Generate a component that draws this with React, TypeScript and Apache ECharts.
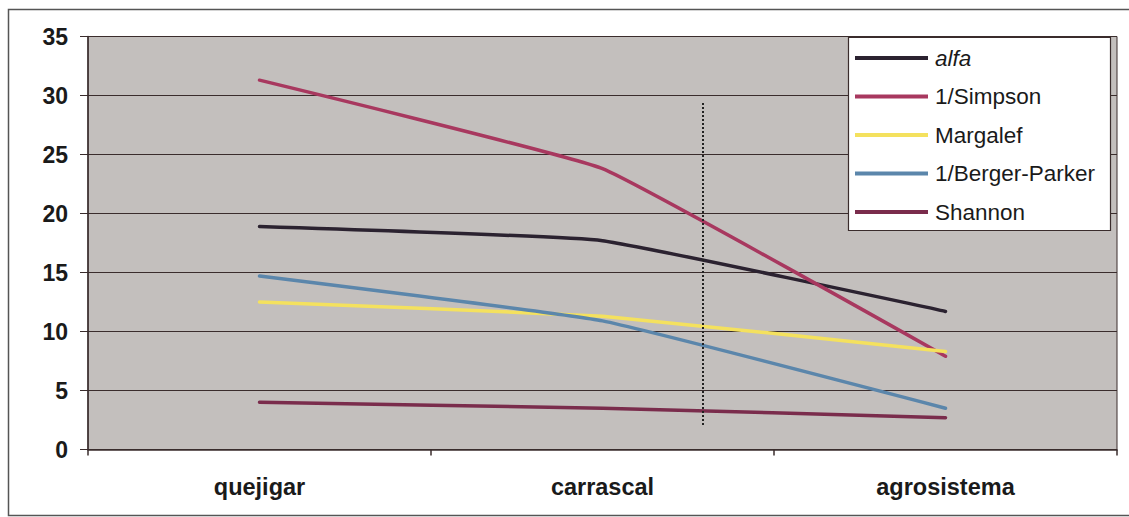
import React, { useEffect, useRef } from "react";
import * as echarts from "echarts";

const categories = ["quejigar", "carrascal", "agrosistema"];
const alfa = [18.9, 17.7, 11.7];
const simpson = [31.3, 23.8, 7.9];
const margalef = [12.5, 11.3, 8.3];
const bergerParker = [14.7, 10.9, 3.5];
const shannon = [4.0, 3.5, 2.7];
const yTicks = { min: 0, max: 35, interval: 5 };

const colors = {
  alfa: "#2b2230",
  simpson: "#a8385f",
  margalef: "#f4e15e",
  berger: "#5b86ab",
  shannon: "#7a2c4c",
};

const FONT = "Liberation Sans, Arial, sans-serif";

export default function App() {
  const ref = useRef<HTMLDivElement>(null);
  useEffect(() => {
    if (!ref.current) return;
    const chart = echarts.init(ref.current, null, { renderer: "svg" });
    const mk = (name: string, data: number[], color: string) => ({
      name,
      type: "line",
      data,
      symbol: "none",
      smooth: 0.1,
      lineStyle: { color, width: 3.5, cap: "round", join: "round" },
      itemStyle: { color },
      z: 3,
    });
    chart.setOption({
      animation: false,
      backgroundColor: "#ffffff",
      textStyle: { fontFamily: FONT },
      grid: { left: 88, right: 12, top: 36.5, bottom: 67.5, show: true, backgroundColor: "#c3bfbd", borderColor: "#3a2c2c", borderWidth: 1 },
      xAxis: {
        type: "category",
        data: categories,
        boundaryGap: true,
        axisLine: { lineStyle: { color: "#3a2c2c", width: 1.5 } },
        axisTick: { show: true, length: 6, lineStyle: { color: "#3a2c2c", width: 1.5 } },
        axisLabel: { fontSize: 23.5, fontWeight: "bold", color: "#1a1a1a", margin: 25, fontFamily: FONT },
      },
      yAxis: {
        type: "value",
        min: yTicks.min,
        max: yTicks.max,
        interval: yTicks.interval,
        axisLine: { show: true, lineStyle: { color: "#3a2c2c", width: 1.5 } },
        axisTick: { show: true, length: 8, lineStyle: { color: "#3a2c2c" } },
        splitLine: { lineStyle: { color: "#3a2c2c", width: 1 } },
        axisLabel: { fontSize: 23, fontWeight: "bold", color: "#1a1a1a", margin: 20, fontFamily: FONT },
      },
      legend: {
        orient: "vertical",
        left: 855,
        top: 46,
        padding: 0,
        icon: "rect",
        itemWidth: 73,
        itemHeight: 4,
        itemGap: 14.5,
        z: 10,
        textStyle: {
          fontSize: 22.5,
          lineHeight: 24,
          color: "#1a1a1a",
          padding: [0, 0, 0, 2],
          fontFamily: FONT,
          rich: { i: { fontStyle: "italic", fontSize: 22.5, lineHeight: 24, color: "#1a1a1a", fontFamily: FONT } },
        },
        formatter: (n: string) => (n === "alfa" ? "{i|alfa}" : n),
        data: ["alfa", "1/Simpson", "Margalef", "1/Berger-Parker", "Shannon"],
      },
      graphic: [
        { type: "rect", z: 8, shape: { x: 848.5, y: 37.5, width: 262, height: 193 }, style: { fill: "#ffffff", stroke: "#3a2c2c", lineWidth: 1.2 } },
        { type: "line", z: 6, shape: { x1: 703, y1: 103, x2: 703, y2: 425 }, style: { stroke: "#222", lineWidth: 2, lineDash: [2, 2] } },
        { type: "rect", z: 1, shape: { x: 8.5, y: 9.5, width: 1140, height: 506 }, style: { fill: "none", stroke: "#555", lineWidth: 1.5 } },
      ],
      series: [
        mk("alfa", alfa, colors.alfa),
        mk("1/Simpson", simpson, colors.simpson),
        mk("Margalef", margalef, colors.margalef),
        mk("1/Berger-Parker", bergerParker, colors.berger),
        mk("Shannon", shannon, colors.shannon),
      ],
    });
    return () => chart.dispose();
  }, []);
  return <div ref={ref} style={{ position: "fixed", left: 0, top: 0, width: 1129, height: 517 }} />;
}
